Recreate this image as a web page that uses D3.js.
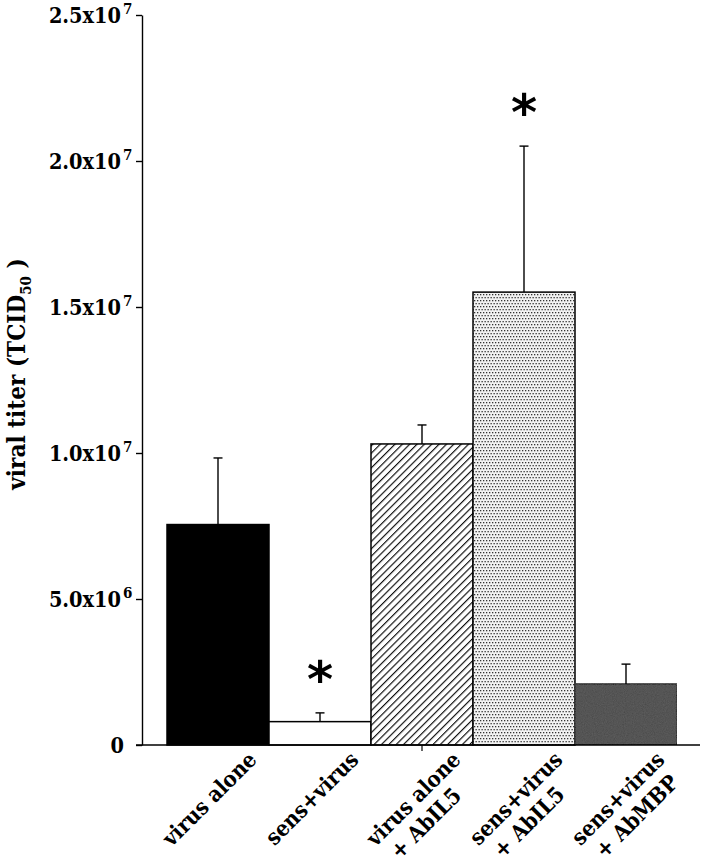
<!DOCTYPE html>
<html>
<head>
<meta charset="utf-8">
<script src="https://cdn.jsdelivr.net/npm/d3@7"></script>
<style>
  body { margin: 0; background: #fff; }
  text { font-family: "DejaVu Serif Condensed", "DejaVu Serif", serif; font-weight: bold; }
</style>
</head>
<body>
<script>
// data
var categories = ["virus alone", "sens+virus", "virus alone|+ AbIL5", "sens+virus|+ AbIL5", "sens+virus|+ AbMBP"];
var titers = [7.55e6, 0.80e6, 1.031e7, 1.551e7, 2.09e6];
var errTop = [9.83e6, 1.10e6, 1.096e7, 2.051e7, 2.77e6];
var starred = [false, true, false, true, false];
var tickVals = [0, 5e6, 1e7, 1.5e7, 2e7, 2.5e7];
var tickMain = ["0", "5.0x10", "1.0x10", "1.5x10", "2.0x10", "2.5x10"];
var tickExp = ["", "6", "7", "7", "7", "7"];

var width = 704, height = 863;

var svg = d3.select("body").append("svg")
    .attr("width", width)
    .attr("height", height);

var defs = svg.append("defs");

// hatch for 3rd bar
var hatch = defs.append("pattern")
    .attr("id", "hatch")
    .attr("patternUnits", "userSpaceOnUse")
    .attr("width", 5.2).attr("height", 10)
    .attr("patternTransform", "rotate(45)");
hatch.append("rect").attr("width", 5.2).attr("height", 10).attr("fill", "#fff");
hatch.append("line")
    .attr("x1", 0.6).attr("y1", 0).attr("x2", 0.6).attr("y2", 10)
    .attr("stroke", "#000").attr("stroke-width", 1.1);

// stipple for 4th bar
var dots = defs.append("pattern")
    .attr("id", "dots")
    .attr("patternUnits", "userSpaceOnUse")
    .attr("width", 6).attr("height", 6);
dots.append("rect").attr("width", 6).attr("height", 6).attr("fill", "#f2f2f2");
[[0, 0], [3, 0], [1.5, 3], [4.5, 3]].forEach(function (p) {
    dots.append("rect").attr("x", p[0]).attr("y", p[1])
        .attr("width", 1.3).attr("height", 1.3).attr("fill", "#333");
});

// grainy dark fill for 5th bar
var grain = defs.append("filter").attr("id", "grain")
    .attr("x", 0).attr("y", 0).attr("width", 1).attr("height", 1);
grain.append("feTurbulence").attr("type", "fractalNoise")
    .attr("baseFrequency", 0.9).attr("numOctaves", 2).attr("result", "n");
grain.append("feColorMatrix").attr("in", "n").attr("type", "matrix")
    .attr("values", "0 0 0 0 0.15  0 0 0 0 0.15  0 0 0 0 0.15  0 0 0 0.6 0")
    .attr("result", "c");
grain.append("feComposite").attr("in", "c").attr("in2", "SourceGraphic").attr("operator", "in").attr("result", "g");
var fm = grain.append("feMerge");
fm.append("feMergeNode").attr("in", "SourceGraphic");
fm.append("feMergeNode").attr("in", "g");

var fills = ["#000", "#fff", "url(#hatch)", "url(#dots)", "#484848"];

var y = d3.scaleLinear().domain([0, 2.5e7]).range([745, 15]);
var x = d3.scaleBand().domain(categories).range([167, 677]).padding(0);

// bars
svg.selectAll("rect.bar")
    .data(categories)
    .enter()
    .append("rect")
    .attr("class", "bar")
    .attr("x", function (d) { return x(d); })
    .attr("width", x.bandwidth())
    .attr("y", function (d, i) { return y(titers[i]); })
    .attr("height", function (d, i) { return y(0) - y(titers[i]); })
    .attr("fill", function (d, i) { return fills[i]; })
    .attr("filter", function (d, i) { return i == 4 ? "url(#grain)" : null; })
    .attr("stroke", "#000")
    .attr("stroke-width", 1.5);

// error bars
var err = svg.selectAll("g.err")
    .data(categories)
    .enter()
    .append("g")
    .attr("class", "err")
    .attr("stroke", "#000")
    .attr("stroke-width", 1.4);
err.append("line")
    .attr("x1", function (d) { return x(d) + x.bandwidth() / 2; })
    .attr("x2", function (d) { return x(d) + x.bandwidth() / 2; })
    .attr("y1", function (d, i) { return y(titers[i]); })
    .attr("y2", function (d, i) { return y(errTop[i]); });
err.append("line")
    .attr("x1", function (d) { return x(d) + x.bandwidth() / 2 - 4.5; })
    .attr("x2", function (d) { return x(d) + x.bandwidth() / 2 + 4.5; })
    .attr("y1", function (d, i) { return y(errTop[i]); })
    .attr("y2", function (d, i) { return y(errTop[i]); });

// significance asterisks, ~38px above the error cap
svg.selectAll("text.star")
    .data(categories.filter(function (d, i) { return starred[i]; }))
    .enter()
    .append("text")
    .attr("class", "star")
    .attr("x", function (d) { return x(d) + x.bandwidth() / 2; })
    .attr("y", function (d) {
        var i = categories.indexOf(d);
        return y(errTop[i]) - 16;
    })
    .attr("text-anchor", "middle")
    .style("font-family", "'DejaVu Sans', sans-serif")
    .style("font-size", "50px")
    .text("*");

// y axis
svg.append("g")
    .attr("transform", "translate(142,0)")
    .call(d3.axisLeft(y).tickValues(tickVals).tickSize(6).tickSizeOuter(0).tickFormat(""))
    .call(function (g) {
        g.select(".domain").attr("stroke-width", 1.4);
        g.selectAll(".tick line").attr("stroke-width", 1.4);
    });

// baseline
svg.append("line")
    .attr("x1", 136).attr("x2", 700)
    .attr("y1", y(0)).attr("y2", y(0))
    .attr("stroke", "#000").attr("stroke-width", 1.4);
// lone tick under third bar
svg.append("line")
    .attr("x1", x(categories[2]) + x.bandwidth() / 2)
    .attr("x2", x(categories[2]) + x.bandwidth() / 2)
    .attr("y1", y(0)).attr("y2", y(0) + 6)
    .attr("stroke", "#000").attr("stroke-width", 1.2);

// tick labels with superscript exponent
tickVals.forEach(function (v, i) {
    svg.append("text")
        .attr("x", i == 0 ? 124 : 121)
        .attr("y", y(v) + 8)
        .attr("text-anchor", "end")
        .style("font-size", "21.5px")
        .text(tickMain[i]);
    if (tickExp[i]) {
        svg.append("text")
            .attr("x", 123)
            .attr("y", y(v) - 1)
            .style("font-size", "15px")
            .text(tickExp[i]);
    }
});

// y axis title
var yt = svg.append("text")
    .attr("transform", "translate(25,374) rotate(-90)")
    .attr("text-anchor", "middle")
    .style("font-size", "24px");
yt.append("tspan").text("viral titer (TCID");
yt.append("tspan").attr("dy", 6).style("font-size", "15px").text("50");
yt.append("tspan").attr("dy", -6).text(" )");

// category labels, rotated
categories.forEach(function (c, i) {
    var lines = c.split("|");
    var cx = x(c) + x.bandwidth() / 2;
    var g = svg.append("g")
        .attr("transform", "translate(" + (cx + 40) + ",761) rotate(-45)");
    var t1 = g.append("text")
        .attr("text-anchor", "end")
        .style("font-size", "22px")
        .text(lines[0]);
    if (lines.length > 1) {
        var w1 = t1.node().getComputedTextLength();
        g.append("text")
            .attr("x", -w1 + 8)
            .attr("y", 26)
            .style("font-size", "22px")
            .text(lines[1]);
    }
});
</script>
</body>
</html>
